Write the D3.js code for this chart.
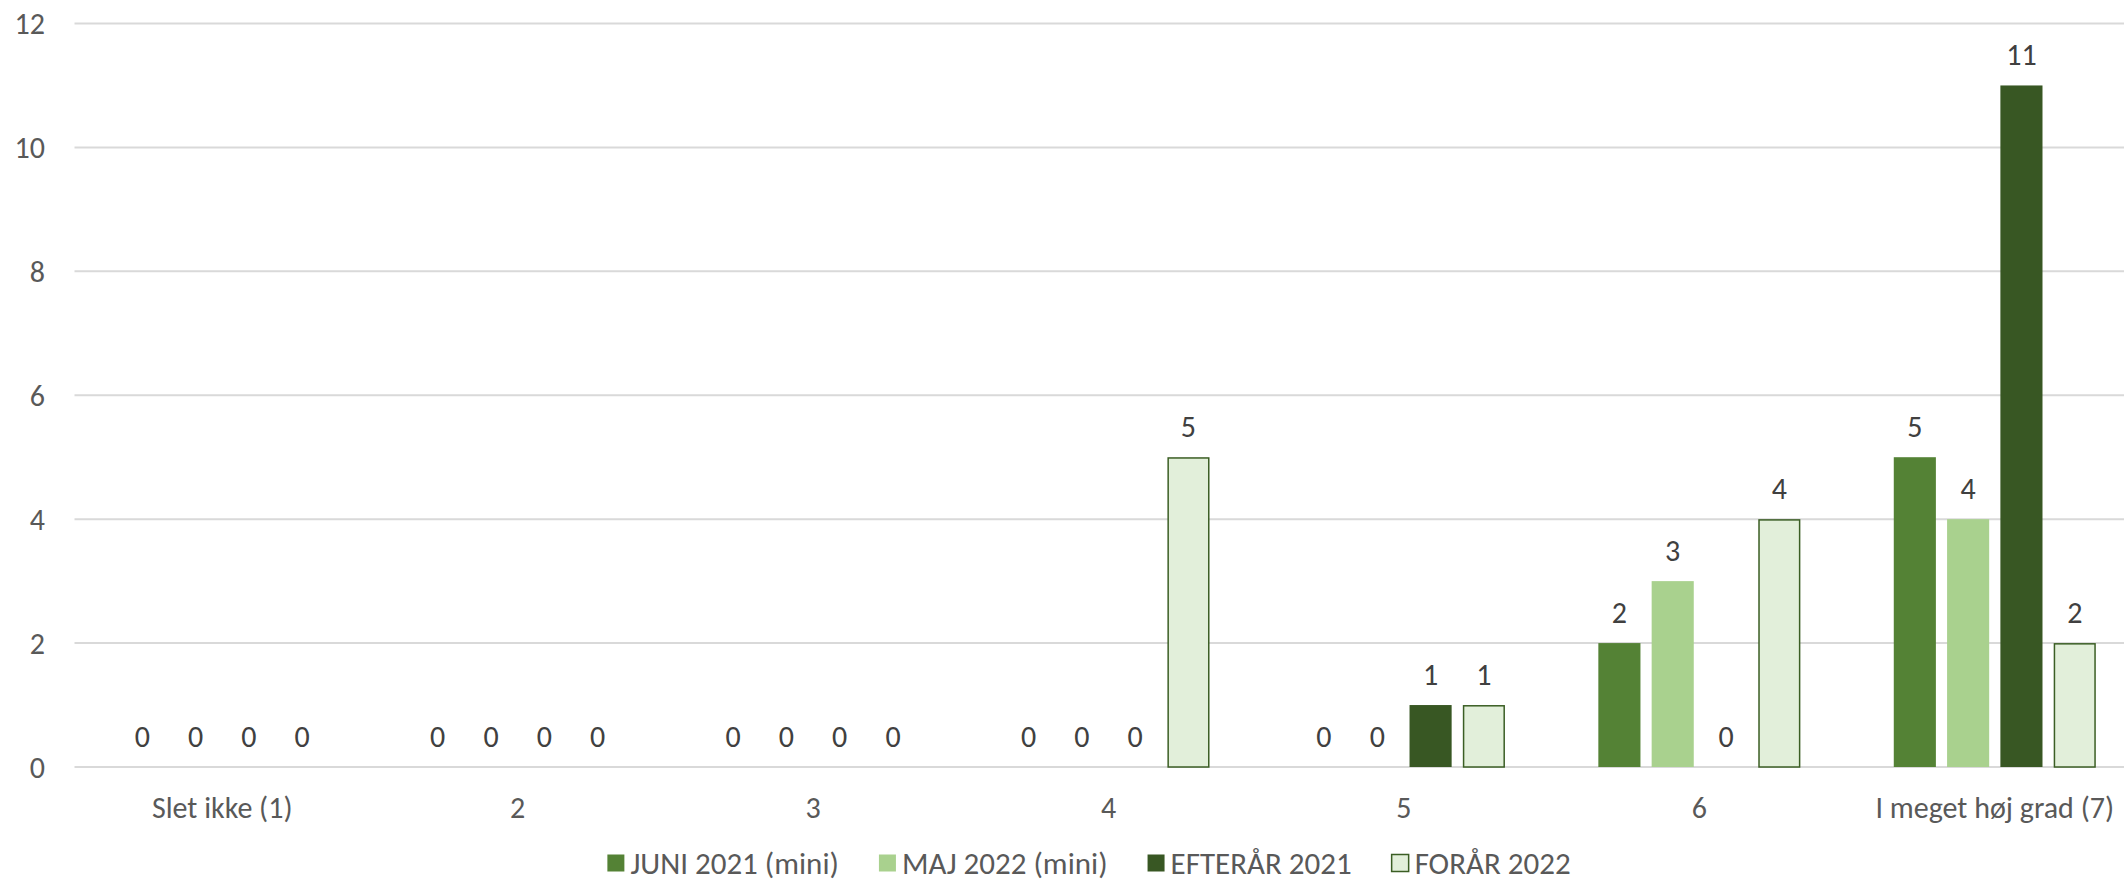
<!DOCTYPE html>
<html><head><meta charset="utf-8">
<script src="https://cdn.jsdelivr.net/npm/d3@7"></script>
<style>
html,body{margin:0;padding:0;background:#fff;overflow:hidden}
text{font-family:Carlito,Calibri,Lato,sans-serif}
</style></head>
<body><svg id="chart" width="2124" height="885"></svg>
<script>
const categories = ["Slet ikke (1)", "2", "3", "4", "5", "6", "I meget høj grad (7)"];
const seriesNames = ["JUNI 2021 (mini)", "MAJ 2022 (mini)", "EFTERÅR 2021", "FORÅR 2022"];
const juni2021 = [0, 0, 0, 0, 0, 2, 5];
const maj2022 = [0, 0, 0, 0, 0, 3, 4];
const efteraar2021 = [0, 0, 0, 0, 1, 0, 11];
const foraar2022 = [0, 0, 0, 5, 1, 4, 2];
const yTicks = [0, 2, 4, 6, 8, 10, 12];

const seriesValues = [juni2021, maj2022, efteraar2021, foraar2022];
const fills = ["#548235", "#A9D18E", "#385723", "#E2EFDA"];
const strokes = [null, null, null, "#3B5E24"];

const W = 2124, H = 885;
const plotL = 74.5, plotR = 2142.5, plotT = 23.5, plotB = 767;
const svg = d3.select("#chart");

const x0 = d3.scaleBand().domain(d3.range(categories.length)).range([plotL, plotR]).padding(0);
const inner = 46.7;
const x1 = d3.scaleBand().domain(d3.range(seriesNames.length))
  .range([inner, x0.bandwidth() - inner]).paddingInner(0.21).paddingOuter(0);
const y = d3.scaleLinear().domain([0, 12]).range([plotB, plotT]);

// gridlines
svg.append("g").selectAll("line").data(yTicks).join("line")
  .attr("x1", plotL).attr("x2", plotR)
  .attr("y1", d => y(d)).attr("y2", d => y(d))
  .attr("stroke", "#D9D9D9").attr("stroke-width", 2);

// y labels
svg.append("g").selectAll("text").data(yTicks).join("text")
  .attr("x", 45).attr("y", d => y(d)).attr("dy", "0.35em")
  .attr("text-anchor", "end").attr("fill", "#595959").attr("font-size", 30)
  .text(d => d);

// bars
const data = [];
categories.forEach((c, i) => seriesValues.forEach((vals, s) => data.push({ i, s, v: vals[i] })));
const gBars = svg.append("g");
gBars.selectAll("rect").data(data.filter(d => d.v > 0)).join("rect")
  .attr("x", d => x0(d.i) + x1(d.s) + (strokes[d.s] ? 0.75 : 0))
  .attr("width", d => x1.bandwidth() - (strokes[d.s] ? 1.5 : 0))
  .attr("y", d => y(d.v) + (strokes[d.s] ? 0.75 : 0))
  .attr("height", d => y(0) - y(d.v) - (strokes[d.s] ? 0.75 : 0))
  .attr("fill", d => fills[d.s])
  .attr("stroke", d => strokes[d.s] || "none")
  .attr("stroke-width", 1.5);

// value labels
svg.append("g").selectAll("text").data(data).join("text")
  .attr("x", d => x0(d.i) + x1(d.s) + x1.bandwidth() / 2)
  .attr("y", d => y(d.v) - 31).attr("dy", "0.35em")
  .attr("text-anchor", "middle").attr("fill", "#404040").attr("font-size", 30)
  .text(d => d.v);

// x labels
const xl = svg.append("g").selectAll("text").data(categories).join("text")
  .attr("x", (d, i) => x0(i) + x0.bandwidth() / 2).attr("y", 807).attr("dy", "0.35em")
  .attr("text-anchor", "middle").attr("fill", "#595959").attr("font-size", 30)
  .text(d => d);
xl.each(function () {
  const b = this.getBBox();
  if (b.x + b.width > W - 3) {
    d3.select(this).attr("x", +d3.select(this).attr("x") - (b.x + b.width - (W - 3)));
  }
});

// legend
const lg = svg.append("g");
const items = lg.selectAll("g").data(seriesNames).join("g");
items.append("rect").attr("width", 17).attr("height", 17).attr("y", -8.5)
  .attr("fill", (d, i) => fills[i]).attr("stroke", (d, i) => strokes[i] || "none").attr("stroke-width", 1.5);
items.append("text").attr("x", 23).attr("dy", "0.35em").attr("fill", "#595959").attr("font-size", 31).text(d => d);
let cx = 0; const gap = 40; const pos = [];
items.each(function () { pos.push(cx); cx += this.getBBox().width + gap; });
const total = cx - gap;
const startX = 1089 - total / 2;
items.attr("transform", (d, i) => `translate(${startX + pos[i]},863)`);
</script></body></html>
